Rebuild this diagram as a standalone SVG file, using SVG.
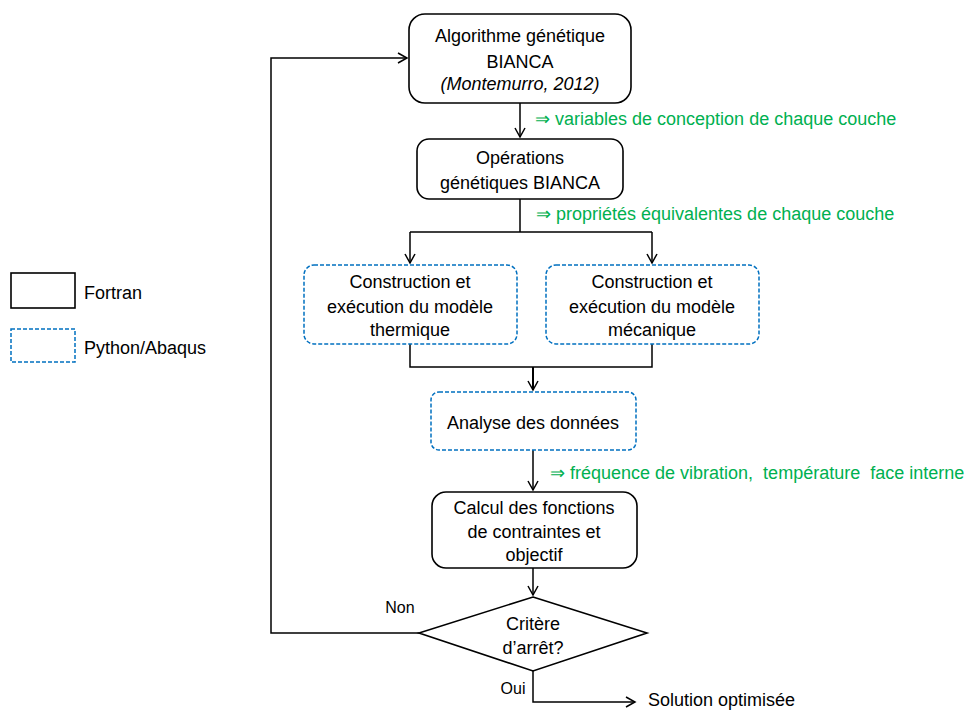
<svg xmlns="http://www.w3.org/2000/svg" width="974" height="710" viewBox="0 0 974 710">
<style>
text{font-family:"Liberation Sans",Arial,sans-serif;font-size:18px;fill:#000}
.c{text-anchor:middle}
.g{fill:#00B050}
.it{font-style:italic}
.box{fill:#fff;stroke:#000;stroke-width:1.6}
.py{fill:#fff;stroke:#0070C0;stroke-width:1.5;stroke-dasharray:4 2}
.ln{fill:none;stroke:#000;stroke-width:1.5}
</style>
<defs>
<marker id="ar" markerWidth="12" markerHeight="12" refX="10" refY="6" orient="auto" markerUnits="userSpaceOnUse">
<path d="M1,1 L10,6 L1,11" fill="none" stroke="#000" stroke-width="1.5"/>
</marker>
</defs>
<g id="connectors">
<path class="ln" d="M520,103 V137" marker-end="url(#ar)"/>
<path class="ln" d="M520,199 V232 M410,232 H652"/>
<path class="ln" d="M410,232 V263" marker-end="url(#ar)"/>
<path class="ln" d="M652,232 V263" marker-end="url(#ar)"/>
<path class="ln" d="M410,344 V367 H652 V344"/>
<path class="ln" d="M533,367 V390" marker-end="url(#ar)" style="stroke-width:2"/>
<path class="ln" d="M533,450 V490" marker-end="url(#ar)"/>
<path class="ln" d="M533,568 V595" marker-end="url(#ar)"/>
<path class="ln" d="M419,633 H271 V58 H407" marker-end="url(#ar)"/>
<path class="ln" d="M533,671 V702 H635" marker-end="url(#ar)"/>
<text x="400" y="613" class="c" style="font-size:16px">Non</text>
<text x="513" y="694" class="c" style="font-size:16px">Oui</text>
<text x="535" y="125" class="g">⇒ variables de conception de chaque couche</text>
<text x="536" y="220" class="g">⇒ propriétés équivalentes de chaque couche</text>
<text x="550" y="479" class="g" xml:space="preserve">⇒ fréquence de vibration,  température  face interne</text>
</g>
<g id="n-algo">
<rect class="box" x="409" y="14" width="222" height="89" rx="16"/>
<text x="520" y="42" class="c">Algorithme génétique</text>
<text x="520" y="68" class="c">BIANCA</text>
<text x="520" y="90" class="c it">(Montemurro, 2012)</text>
</g>
<g id="n-ops">
<rect class="box" x="417" y="139" width="206" height="60" rx="12"/>
<text x="520" y="164" class="c">Opérations</text>
<text x="520" y="189" class="c">génétiques BIANCA</text>
</g>
<g id="n-therm">
<rect class="py" x="304" y="265" width="213" height="79" rx="10"/>
<text x="410" y="288" class="c">Construction et</text>
<text x="410" y="313" class="c">exécution du modèle</text>
<text x="410" y="336" class="c">thermique</text>
</g>
<g id="n-meca">
<rect class="py" x="546" y="265" width="213" height="79" rx="10"/>
<text x="652" y="288" class="c">Construction et</text>
<text x="652" y="313" class="c">exécution du modèle</text>
<text x="652" y="336" class="c">mécanique</text>
</g>
<g id="n-analyse">
<rect class="py" x="431" y="392" width="205" height="58" rx="8"/>
<text x="533" y="429" class="c">Analyse des données</text>
</g>
<g id="n-calcul">
<rect class="box" x="432" y="492" width="205" height="76" rx="14"/>
<text x="534" y="514" class="c">Calcul des fonctions</text>
<text x="534" y="538" class="c">de contraintes et</text>
<text x="534" y="561" class="c">objectif</text>
</g>
<g id="n-critere">
<polygon class="box" points="533,597 647,633 533,671 419,633"/>
<text x="533" y="630" class="c">Critère</text>
<text x="533" y="654" class="c">d’arrêt?</text>
</g>
<g id="n-solution">
<text x="648" y="706">Solution optimisée</text>
</g>
<g id="legend">
<rect x="11" y="273" width="64" height="35" fill="#fff" stroke="#000" stroke-width="1.6"/>
<text x="84" y="299">Fortran</text>
<rect class="py" x="11" y="329" width="64" height="33"/>
<text x="84" y="354">Python/Abaqus</text>
</g>
</svg>
